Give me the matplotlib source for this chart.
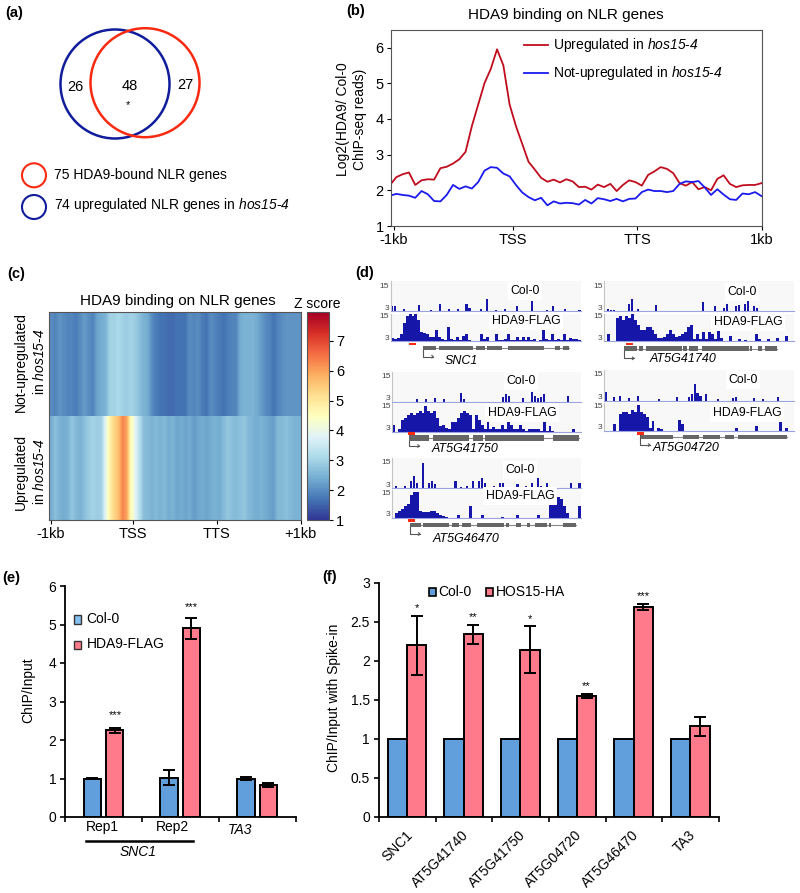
import numpy as np
import matplotlib
matplotlib.use('Agg')
import matplotlib.pyplot as plt
from matplotlib.patches import Circle, Rectangle

plt.rcParams['font.family'] = ['Liberation Sans', 'DejaVu Sans']
# rm is set to the italic face so that the digits in the allele name slant too
plt.rcParams['mathtext.fontset'] = 'custom'
plt.rcParams['mathtext.rm'] = 'Liberation Sans:italic'
plt.rcParams['mathtext.it'] = 'Liberation Sans:italic'

W, H = 800, 893

# panel (a)
venn_counts = ['26', '48', '27']

# panel (b) profile values
profile_up = [2.15, 2.37, 2.45, 2.5, 2.15, 2.28, 2.31, 2.3, 2.62, 2.66, 2.75, 2.87, 3.08, 3.8, 4.4,
              5.0, 5.4, 5.95, 5.5, 4.4, 3.8, 3.3, 2.8, 2.58, 2.35, 2.24, 2.3, 2.22, 2.31, 2.25,
              2.09, 2.1, 2.02, 2.16, 2.09, 2.18, 1.98, 2.15, 2.28, 2.23, 2.13, 2.43, 2.53, 2.65, 2.6,
              2.48, 2.2, 2.13, 2.23, 2.03, 2.09, 2.0, 2.32, 2.42, 2.18, 2.09, 2.14, 2.15, 2.15, 2.2]
profile_not = [1.85, 1.9, 1.87, 1.85, 1.79, 1.98, 1.89, 1.7, 1.69, 1.87, 2.15, 2.04, 2.11, 2.05, 2.23,
               2.55, 2.65, 2.63, 2.47, 2.39, 2.15, 1.94, 1.81, 1.72, 1.79, 1.58, 1.69, 1.63, 1.65, 1.64,
               1.6, 1.73, 1.63, 1.78, 1.75, 1.7, 1.76, 1.69, 1.76, 1.77, 1.95, 2.02, 1.98, 1.98, 1.95,
               1.98, 2.18, 2.25, 2.23, 2.26, 2.08, 1.87, 2.03, 1.88, 1.75, 1.73, 1.91, 1.89, 1.95, 1.84]
profile_ticks = [0.6, 19.5, 39.3, 59.1]
profile_labels = ['-1kb', 'TSS', 'TTS', '1kb']

# panel (c) heatmap rows
heat_not = [2.0, 1.9, 2.1, 2.0, 1.9, 1.9, 1.8, 2.0, 2.2, 2.0, 1.9, 2.3, 2.4, 2.5, 3.0,
            3.0, 3.1, 3.0, 2.9, 3.0, 2.9, 2.7, 2.5, 2.4, 2.0, 1.8, 1.7, 1.7, 1.6, 1.6,
            1.7, 1.7, 1.7, 2.0, 1.9, 2.0, 1.8, 1.7, 2.0, 1.9, 1.8, 1.7, 1.8, 1.9, 1.9,
            2.4, 2.5, 2.5, 2.5, 2.4, 2.2, 2.0, 1.9, 1.7, 1.9, 2.0, 2.1, 2.1, 2.1, 2.1]
heat_up = [2.4, 2.7, 2.5, 2.4, 2.5, 2.8, 2.6, 2.5, 2.7, 2.9, 3.0, 2.9, 3.0, 3.9, 4.8,
           5.3, 5.6, 6.3, 6.0, 4.6, 3.9, 3.3, 2.7, 2.6, 2.5, 2.6, 2.5, 2.6, 2.4, 2.5,
           2.3, 2.4, 2.3, 2.4, 2.2, 2.3, 2.4, 2.3, 2.4, 2.5, 2.4, 2.6, 2.8, 2.7, 2.6,
           2.7, 2.8, 2.6, 2.5, 2.4, 2.5, 2.4, 2.3, 2.2, 2.6, 2.6, 2.7, 2.6, 2.5, 2.5]

# panel (d) read pile-ups, 64 bins along each locus, height above the 3 line
snc1_col = [2, 2, 0, 0, 1, 0, 0, 0, 0, 2.5, 0, 0, 0, 0.5, 0, 0, 3, 0, 0, 1, 0, 0, 1, 0, 0, 3, 1.5, 0, 0, 0, 1, 0,
            5, 0, 0, 0.5, 0, 0, 1, 0, 0, 0, 2, 0, 0, 0, 0, 4, 0, 0, 0, 0, 0.5, 0, 2, 0, 0, 0, 1, 0, 0, 0, 0, 0.5]
snc1_flag = [1.5, 1, 1.5, 3, 8, 11, 12, 11, 12, 9, 4, 3.5, 3, 2, 2, 5, 2, 1, 0.5, 6, 1, 0.5, 2, 0.5, 2.5, 3, 0.5, 0, 0, 0, 3, 1,
             2, 0, 0, 3, 0.5, 0.5, 1, 3, 0.5, 0.5, 2, 0.5, 2, 0.5, 2, 0.5, 1, 0, 0.5, 5, 1, 0.5, 3, 0.5, 1, 0.5, 3, 0.5, 1.5, 1, 1, 0.5]
g41750_col = [0, 0, 0, 0, 0, 0, 0, 0, 1, 0, 0, 1, 0, 0, 1.5, 0, 0, 1, 0, 0, 0, 0, 0, 3.5, 1, 0, 0, 0, 0, 0, 0, 0,
              0, 0, 0, 0, 0, 2, 3, 2.5, 0, 0, 0, 0, 1.5, 0, 0, 4, 2.5, 1.5, 2, 3, 0, 0, 0, 0, 0, 0, 0, 2.5, 0, 0, 0, 0]
g41750_flag = [3, 0, 1, 5, 6, 7, 8, 7, 8, 9, 8, 11, 9, 8, 9, 6, 2.5, 3, 1.5, 1, 4, 4, 6, 8, 9, 8, 7, 1, 7, 5, 3, 1,
               4, 1, 2, 1, 1, 3, 1, 5, 3, 1, 1, 3, 1, 0.5, 1, 1, 1, 1, 0.5, 4.5, 0.5, 2.5, 0.5, 0, 0, 0, 0, 0, 0, 1, 0, 0]
g46470_col = [0, 1, 0, 0, 1, 0, 3, 5, 2, 0, 10, 0, 2, 3, 1.5, 0, 0, 0, 0, 0, 0, 3, 0, 0.5, 0, 1, 0, 3, 0, 3, 4, 2,
              0, 0, 1, 0, 2, 2, 0, 0, 0, 0, 1.5, 0, 0, 1, 0, 2, 0, 4, 1, 0, 2, 0, 0, 0, 0, 0, 0, 0, 2, 0, 0, 2]
g46470_flag = [0, 2, 3, 4, 5, 6, 10, 11, 11, 3, 2.5, 2.5, 2.5, 3, 3, 2, 1.5, 1, 0.5, 0, 0, 0, 1.5, 0, 0, 0, 5, 0, 0, 0, 1.5, 0,
               0, 0, 0, 0, 0, 0.5, 0, 0, 0, 0, 1.5, 0, 0, 0, 0, 0, 0, 1.5, 0, 0, 0, 6, 9, 9, 9, 8, 5, 2, 0, 0, 0, 5]
g41740_col = [0, 1, 0.5, 0.7, 0, 0, 0, 0, 3, 5, 0, 1, 0, 0, 0, 0, 0, 2.5, 0, 0, 0, 0, 0, 0, 0, 0, 0, 0, 0, 0, 0, 0,
              0, 3.5, 0, 0, 0, 2, 0, 0, 1.5, 3, 0, 0, 2, 2.5, 0, 3, 4, 0, 2, 1.5, 0, 0, 0, 0, 0, 0, 0, 0, 0, 0, 0, 0]
g41740_flag = [0, 3, 0, 0, 10, 11, 9, 11, 10, 12, 9, 7, 5, 5, 6, 6, 5, 3, 1.5, 1.5, 2, 3, 5, 3, 2, 2.5, 3, 4, 6, 7, 1, 3,
               1, 4, 1, 4, 3, 1, 6, 1.5, 0, 0, 2.5, 0, 0, 1, 0, 0.7, 0, 0, 0, 3, 1, 0, 0, 1, 0, 0, 1.5, 0, 0, 2.5, 0, 0]
g04720_col = [3.5, 0, 0, 1.5, 0, 2, 0, 0, 1, 0, 0, 2, 0, 0, 0, 0, 0, 0, 0.7, 0, 0, 0, 0, 0, 1.5, 0, 0, 0, 1.5, 2.5, 6.5, 3,
              2, 0, 2.5, 0, 0, 0, 0.7, 0, 0, 0, 0, 1, 1.5, 0, 0, 0, 0, 0, 1, 0, 0, 0.7, 0, 0, 0, 0, 1.5, 0, 0, 0, 0, 0]
g04720_flag = [0, 0, 0, 3, 0, 7, 8, 8, 7, 9, 8, 11, 8, 7, 6, 1, 4, 0, 1, 0.7, 0, 0, 0, 0, 0, 4.5, 3, 0, 0, 0, 0, 0,
               0, 0, 0, 0, 0, 0, 0, 0, 0, 0, 0, 0, 1, 0, 0, 0, 0, 0, 0, 2, 0, 0, 0, 0, 0, 0, 0, 4, 0, 1, 0, 0]

# exon coordinates along each locus
snc1_exons = [(130, 168), (176, 278), (288, 314), (322, 365), (383, 493), (525, 540), (548, 568)]
g41750_exons = [(88, 148), (158, 268), (278, 308), (316, 492), (520, 597)]
g46470_exons = [(90, 122), (128, 208), (215, 237), (245, 272), (292, 372), (377, 388), (408, 422), (440, 450),
                (465, 500), (508, 512), (548, 588)]
g41740_exons = [(103, 140), (146, 158), (167, 276), (280, 290), (298, 325), (337, 476), (481, 486), (503, 515),
                (524, 560)]
g04720_exons = [(153, 250), (278, 328), (340, 390), (404, 433), (445, 590)]

# panel (e)
rep_col = [1.0, 1.02, 1.0]
rep_flag = [2.25, 4.9, 0.84]
rep_col_err = [0.01, 0.2, 0.04]
rep_flag_err = [0.07, 0.27, 0.05]

# panel (f)
spike_names = ['SNC1', 'AT5G41740', 'AT5G41750', 'AT5G04720', 'AT5G46470', 'TA3']
spike_col = [1.0, 1.0, 1.0, 1.0, 1.0, 1.0]
spike_hos = [2.2, 2.34, 2.14, 1.55, 2.69, 1.16]
spike_hos_err = [0.38, 0.12, 0.3, 0.03, 0.04, 0.12]
spike_stars = ['*', '**', '*', '**', '***', '']

BLUE = '#619fdc'
PINK = '#ff7a8a'
NAVY = '#1616a8'
HOS = r'$\mathrm{hos15}$-$\mathrm{4}$'

fig = plt.figure(figsize=(W / 100, H / 100), dpi=100)


def px_axes(left, top, right, bottom):
    return fig.add_axes([left / W, 1 - bottom / H, (right - left) / W, (bottom - top) / H])


# full-figure layer for the loose labels
canvas = px_axes(0, 0, W, H)
canvas.set_xlim(0, W)
canvas.set_ylim(H, 0)
canvas.axis('off')
canvas.set_zorder(5)
canvas.patch.set_alpha(0)


def label(x, y, s, size=10, ha='left', **kw):
    canvas.text(x, y, s, fontsize=size, ha=ha, va='center', **kw)


for x, y, s in [(5, 13, '(a)'), (346, 11, '(b)'), (7, 274, '(c)'), (355, 273, '(d)'), (2, 578, '(e)'), (322, 577, '(f)')]:
    label(x, y, s, size=10.5, fontweight='bold')

# (a) venn
canvas.add_patch(Circle((115, 84), 54.5, fill=False, ec='#101c9c', lw=1.8))
canvas.add_patch(Circle((145, 82.7), 54.5, fill=False, ec='#f92a10', lw=1.8))
canvas.add_patch(Circle((34, 175.3), 12, fill=False, ec='#f92a10', lw=1.5))
canvas.add_patch(Circle((34, 207), 12, fill=False, ec='#101c9c', lw=1.5))
label(75.5, 87, venn_counts[0], ha='center', size=10.5)
label(129.5, 86, venn_counts[1], ha='center', size=10.5)
label(128, 105, '*', ha='center', size=8)
label(185.5, 85, venn_counts[2], ha='center', size=10.5)
label(54, 174.5, '75 HDA9-bound NLR genes', size=10)
label(53.5, 205, '74 upregulated NLR genes in ' + HOS, size=10)

# (b) profile
ax = px_axes(390.7, 29.7, 762, 226)
ax.plot(profile_up, color='#c00d1e', lw=1.3)
ax.plot(profile_not, color='#1a1aee', lw=1.3)
ax.set_xlim(0.1, 59.1)
ax.set_ylim(1, 6.5)
ax.set_xticks(profile_ticks)
ax.set_xticklabels(profile_labels)
ax.set_yticks([1, 2, 3, 4, 5, 6])
ax.tick_params(labelsize=10.5, length=3, width=0.8, pad=2)
for s in ax.spines.values():
    s.set_color('#555555')
label(565.5, 15, 'HDA9 binding on NLR genes', ha='center', size=11)
canvas.plot([524, 548], [45, 45], color='#c00d1e', lw=1.3)
canvas.plot([524, 548], [72.7, 72.7], color='#1a1aee', lw=1.3)
label(553, 45, 'Upregulated in ' + HOS, size=10)
label(553, 73.5, 'Not-upregulated in ' + HOS, size=10)
label(351.5, 119, 'Log2(HDA9/ Col-0\nChIP-seq reads)', ha='center', size=10, rotation=90, linespacing=1.25)

# (c) heatmap
ax = px_axes(49.3, 312.3, 300.7, 520)
ext_top = [0, 60, 1, 2]
ext_bottom = [0, 60, 0, 1]
im = ax.imshow([heat_not], extent=ext_top, aspect='auto', cmap='RdYlBu_r', vmin=1, vmax=7.96, interpolation='bilinear')
ax.imshow([heat_up], extent=ext_bottom, aspect='auto', cmap='RdYlBu_r', vmin=1, vmax=7.96, interpolation='bilinear')
ax.set_xlim(0, 60)
ax.set_ylim(0, 2)
ax.set_yticks([])
ax.set_xticks([0.3, 19.9, 40, 60])
ax.set_xticklabels(['-1kb', 'TSS', 'TTS', '+1kb'])
ax.tick_params(labelsize=10.5, length=3, width=0.8, pad=2)
for s in ax.spines.values():
    s.set_color('#555555')
cax = px_axes(306.7, 312.3, 329, 520)
cb = fig.colorbar(im, cax=cax, ticks=[1, 2, 3, 4, 5, 6, 7])
cb.ax.tick_params(labelsize=10.5, length=3, width=0.8, pad=2)
cb.outline.set_edgecolor('#555555')
label(178, 301, 'HDA9 binding on NLR genes', ha='center', size=11)
label(317, 304, 'Z score', ha='center', size=10)
label(21, 362, 'Not-upregulated', ha='center', size=10, rotation=90)
label(39, 362, 'in ' + HOS, ha='center', size=10, rotation=90)
label(21, 472, 'Upregulated', ha='center', size=10, rotation=90)
label(39, 472, 'in ' + HOS, ha='center', size=10, rotation=90)


# (d) browser tracks
def draw_track(left, right, top, base, vals, name, tx, ty, bar_width, top_pad):
    ax = px_axes(left, top, right, base)
    ax.set_facecolor('#f8f8f8')
    ax.bar(np.arange(len(vals)) + 0.5, vals, width=bar_width, color=NAVY, lw=0)
    ax.set_xlim(0, 64)
    ax.set_ylim(0, 12)
    ax.set_xticks([])
    ax.set_yticks([])
    for s in ['top', 'right']:
        ax.spines[s].set_visible(False)
    ax.spines['left'].set_color('#c4c4c4')
    ax.spines['bottom'].set_color('#9aa2e0')
    label(left - 1.5, top + top_pad, '15', ha='right', size=6, color='#444444')
    label(left - 1.5, base - 3, '3', ha='right', size=6, color='#444444')
    label(tx, ty, name, ha='center', size=8.8, bbox=dict(fc='white', ec='none', pad=2))


def draw_gene(origin, box, exons, tss, red, name, name_x, name_y, arrow_y, arrow_end):
    # everything given in 3x crop units, turned into px here
    ox, oy = origin
    sx = lambda v: ox + v / 3
    sy = lambda v: oy + v / 3
    top, bot = box
    canvas.plot([sx(exons[0][0]), sx(exons[-1][1])], [sy((top + bot) / 2)] * 2, color='#888888', lw=0.8)
    for a, b in exons:
        canvas.add_patch(Rectangle((sx(a), sy(top)), (b - a) / 3, (bot - top) / 3, fc='#666666', ec='none', zorder=3))
    canvas.add_patch(Rectangle((sx(red[0]), sy(red[2])), (red[1] - red[0]) / 3, (red[3] - red[2]) / 3, fc='#f92a10', ec='none'))
    canvas.plot([sx(tss), sx(tss), sx(arrow_end)], [sy(arrow_y[0]), sy(arrow_y[1]), sy(arrow_y[1])], color='#555555', lw=0.8)
    canvas.plot([sx(arrow_end) - 1.5, sx(arrow_end), sx(arrow_end) - 1.5],
                [sy(arrow_y[1]) - 1.2, sy(arrow_y[1]), sy(arrow_y[1]) + 1.2], color='#555555', lw=0.8)
    label(sx(name_x), sy(name_y), name, ha='center', size=9, style='italic')


o1 = (380, 280)
o2 = (590, 280)
COL_W = 0.7
FLAG_W = 1.0
draw_track(390.7, 581, 281, 311.3, snc1_col, 'Col-0', 525, 291, COL_W, 5)
draw_track(390.7, 581, 313.5, 341.3, snc1_flag, 'HDA9-FLAG', 526, 321, FLAG_W, 3.5)
draw_gene(o1, (197, 210), snc1_exons, 130, (88, 108, 188, 194), 'SNC1', 243, 243, (210, 230), 160)

draw_track(392, 581, 372, 401.7, g41750_col, 'Col-0', 521, 381, COL_W, 5)
draw_track(392, 581, 403.5, 431.7, g41750_flag, 'HDA9-FLAG', 522, 413, FLAG_W, 3.5)
draw_gene(o1, (466, 482), g41750_exons, 88, (83, 105, 456, 464), 'AT5G41750', 255, 507, (482, 498), 118)

draw_track(392, 581, 457.7, 488.3, g46470_col, 'Col-0', 520, 470, COL_W, 5)
draw_track(392, 581, 490, 518, g46470_flag, 'HDA9-FLAG', 520, 496, FLAG_W, 3.5)
draw_gene(o1, (730, 742), g46470_exons, 90, (83, 105, 717, 725), 'AT5G46470', 258, 777, (742, 762), 120)

draw_track(604, 794, 281, 311.3, g41740_col, 'Col-0', 742, 292, COL_W, 5)
draw_track(604, 794, 313.5, 341.3, g41740_flag, 'HDA9-FLAG', 748, 322, FLAG_W, 3.5)
draw_gene(o2, (198, 214), g41740_exons, 103, (108, 130, 188, 195), 'AT5G41740', 278, 238, (214, 235), 132)

draw_track(604, 794, 370, 400.7, g04720_col, 'Col-0', 743, 380, COL_W, 5)
draw_track(604, 794, 402.7, 430.7, g04720_flag, 'HDA9-FLAG', 747, 413, FLAG_W, 3.5)
draw_gene(o2, (465, 477), g04720_exons, 150, (141, 162, 456, 464), 'AT5G04720', 287, 505, (465, 495), 180)


def style_bar_axes(ax):
    for s in ['top', 'right']:
        ax.spines[s].set_visible(False)
    ax.spines['left'].set_linewidth(1.3)
    ax.spines['bottom'].set_linewidth(1.3)
    ax.tick_params(width=1.2, length=3.5, labelsize=10, pad=3)


# (e) ChIP-qPCR
ax = px_axes(65.3, 586, 295.7, 817)
x = np.arange(3) + 0.497
bar_kw = dict(edgecolor='black', linewidth=1.4, error_kw=dict(ecolor='black', elinewidth=1.4, capsize=4, capthick=1.4))
ax.bar(x - 0.146, rep_col, 0.226, color=BLUE, yerr=rep_col_err, **bar_kw)
ax.bar(x + 0.146, rep_flag, 0.226, color=PINK, yerr=rep_flag_err, **bar_kw)
ax.set_xlim(0, 3)
ax.set_ylim(0, 6)
ax.set_xticks([0, 1, 2, 3])
ax.set_xticklabels([])
ax.set_yticks([0, 1, 2, 3, 4, 5, 6])
style_bar_axes(ax)
label(28.5, 690.5, 'ChIP/Input', ha='center', size=10, rotation=90)
label(102, 827, 'Rep1', ha='center', size=10)
label(172.5, 827, 'Rep2', ha='center', size=10)
label(240, 830, 'TA3', ha='center', size=10, style='italic')
canvas.plot([86, 192.7], [840.7, 840.7], color='black', lw=1.8)
label(138.5, 852, 'SNC1', ha='center', size=10, style='italic')
label(115, 715, '***', ha='center', size=8)
label(191.5, 607, '***', ha='center', size=8)
canvas.add_patch(Rectangle((73.5, 615), 7.5, 8.5, fc='#84c0f0', ec='#333333', lw=1))
canvas.add_patch(Rectangle((73.5, 640.5), 7.5, 8, fc=PINK, ec='#333333', lw=1))
label(86.5, 619, 'Col-0', size=10)
label(86.5, 644.5, 'HDA9-FLAG', size=10)

# (f) spike-in qPCR
ax = px_axes(379, 582.7, 719, 817)
x = np.arange(6) + 0.494
ax.bar(x - 0.17, spike_col, 0.34, color=BLUE, edgecolor='black', linewidth=1.4)
ax.bar(x + 0.17, spike_hos, 0.34, color=PINK, yerr=spike_hos_err, **bar_kw)
ax.set_xlim(0, 6)
ax.set_ylim(0, 3)
ax.set_xticks(range(7))
ax.set_xticklabels([])
ax.set_yticks([0, 0.5, 1, 1.5, 2, 2.5, 3])
ax.set_yticklabels(['0', '0.5', '1', '1.5', '2', '2.5', '3'])
style_bar_axes(ax)
for i, name in enumerate(spike_names):
    ax.annotate(name, (x[i], 0), xytext=(-1.3, -8), textcoords='offset points', rotation=45, ha='right', va='top',
                rotation_mode='anchor', fontsize=10)
    if spike_stars[i]:
        ax.annotate(spike_stars[i], (x[i] + 0.17, spike_hos[i] + spike_hos_err[i]), xytext=(0, 2),
                    textcoords='offset points', ha='center', va='bottom', fontsize=8)
label(334, 698, 'ChIP/Input with Spike-in', ha='center', size=10, rotation=90)
canvas.add_patch(Rectangle((429, 588), 7, 7.5, fc=BLUE, ec='black', lw=1.2))
canvas.add_patch(Rectangle((486, 588), 7, 7.5, fc=PINK, ec='black', lw=1.2))
label(438.5, 592.5, 'Col-0', size=10)
label(495.5, 592.5, 'HOS15-HA', size=10)

fig.savefig('out.png', dpi=100)
